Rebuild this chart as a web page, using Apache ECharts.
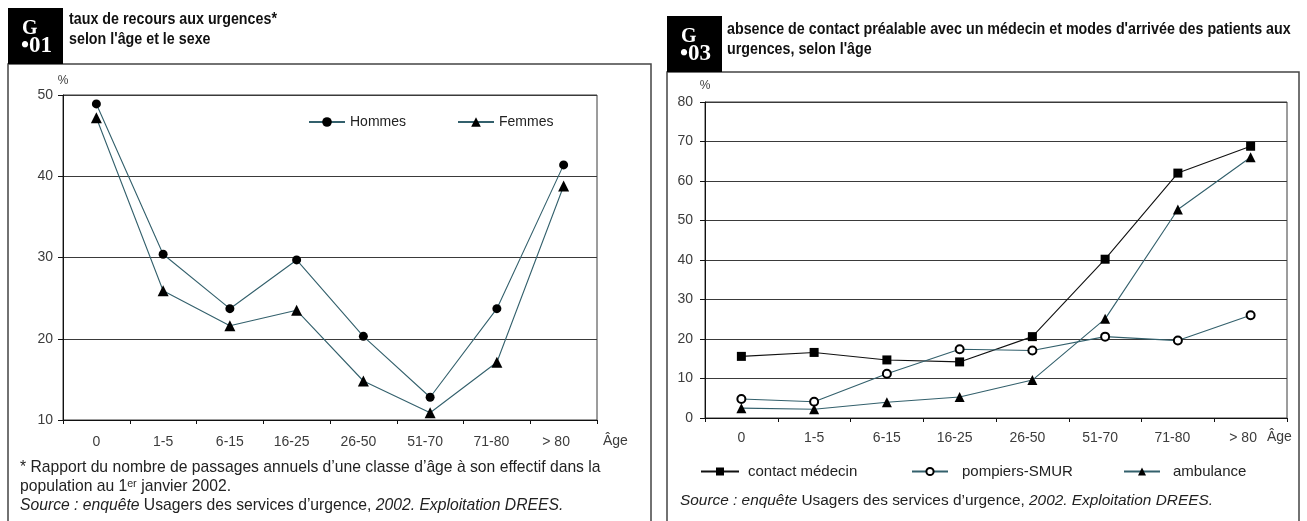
<!DOCTYPE html>
<html>
<head>
<meta charset="utf-8">
<script src="https://cdn.jsdelivr.net/npm/echarts@6/dist/echarts.min.js"></script>
<style>
html,body{margin:0;padding:0;background:#fff;}
#c{width:1307px;height:521px;}
</style>
</head>
<body>
<div id="c"></div>
<script>
// ---- data ----
const categories = ['0', '1-5', '6-15', '16-25', '26-50', '51-70', '71-80', '> 80'];
const hommes = [48.9, 30.4, 23.7, 29.7, 20.3, 12.8, 23.7, 41.4];
const femmes = [47.2, 25.9, 21.6, 23.5, 14.8, 10.9, 17.1, 38.8];
const contactMedecin = [15.6, 16.6, 14.7, 14.2, 20.6, 40.2, 62.0, 68.8];
const pompiersSMUR = [4.8, 4.1, 11.2, 17.4, 17.1, 20.6, 19.6, 26.0];
const ambulance = [2.5, 2.2, 4.0, 5.3, 9.6, 25.1, 52.8, 66.0];
const leftSeriesNames = ['Hommes', 'Femmes'];
const rightSeriesNames = ['contact médecin', 'pompiers-SMUR', 'ambulance'];
const titleLeft = ['taux de recours aux urgences*', "selon l'âge et le sexe"];
const titleRight = ["absence de contact préalable avec un médecin et modes d'arrivée des patients aux", "urgences, selon l'âge"];
const noteLeft1 = "* Rapport du nombre de passages annuels d’une classe d’âge à son effectif dans la";
const noteLeft2 = "population au 1ᵉʳ janvier 2002.";
const axisUnit = '%';
const axisXName = 'Âge';

const FONT = '"Liberation Sans", Arial, sans-serif';
const TITLEFONT = '"Liberation Sans", Arial, sans-serif';
const TEAL = '#33606c';
const GRID = '#3a3a3a';
const LBL = '#3c3c3c';

const chart = echarts.init(document.getElementById('c'), null, {renderer: 'canvas', width: 1307, height: 521});

// category labels drift slightly left in the original layout
const labelShift = [0, 0, 0, 10, 10, 10, 11, 15];
const categoryItems = categories.map((c, i) => labelShift[i] ? {value: c, textStyle: {padding: [0, labelShift[i], 0, 0]}} : c);

function xAxisCfg(gi, margin) {
  return {
    type: 'category', gridIndex: gi, data: categoryItems, boundaryGap: true,
    axisLine: {show: true, lineStyle: {color: '#111', width: 1}},
    axisTick: {show: true, length: 4, lineStyle: {color: '#111'}},
    axisLabel: {fontFamily: FONT, fontSize: 14, color: LBL, margin: margin},
    splitLine: {show: false}
  };
}
function yAxisCfg(gi, min, max, margin, gap) {
  return {
    type: 'value', gridIndex: gi, min: min, max: max, interval: 10,
    name: axisUnit, nameLocation: 'end', nameGap: gap,
    nameTextStyle: {fontFamily: FONT, fontSize: 12, color: LBL, align: 'center'},
    axisLine: {show: true, lineStyle: {color: '#111', width: 1}},
    axisTick: {show: true, length: 5, lineStyle: {color: '#111'}},
    axisLabel: {fontFamily: FONT, fontSize: 14, color: LBL, margin: margin},
    splitLine: {show: true, lineStyle: {color: GRID, width: 1}}
  };
}
function lineSeries(name, data, gi, symbol, size, lineColor, fill) {
  return {
    name: name, type: 'line', xAxisIndex: gi, yAxisIndex: gi, data: data,
    symbol: symbol, symbolSize: size, showAllSymbol: true,
    lineStyle: {color: lineColor, width: 1.1},
    itemStyle: {color: fill || '#000', borderColor: '#000', borderWidth: symbol === 'emptyCircle' ? 1.2 : 0},
    emphasis: {disabled: true}, animation: false, z: 5
  };
}
function legendCfg(name, left, top, w, h, fs, pad) {
  return {
    data: [name], left: left, top: top, padding: 0, itemWidth: w, itemHeight: h,
    selectedMode: false,
    textStyle: {fontFamily: FONT, fontSize: fs, color: '#222', padding: [0, 0, 0, pad]}
  };
}
function srcText(x, y, fs) {
  return {
    type: 'text', left: x, top: y,
    style: {
      text: '{i|Source : enquête} {n|Usagers des services d’urgence,} {i|2002. Exploitation DREES.}',
      rich: {
        i: {fontFamily: FONT, fontSize: fs, fontStyle: 'italic', fill: '#222'},
        n: {fontFamily: FONT, fontSize: fs, fill: '#222'}
      },
      font: fs + 'px ' + FONT, fill: '#222'
    }
  };
}
function box(x, y, num) {
  return [
    {type: 'rect', shape: {x: x, y: y, width: 55, height: 56}, style: {fill: '#000'}},
    {type: 'text', x: x + 14, y: y + 11, style: {text: 'G', font: 'bold 20px "Liberation Serif", serif', fill: '#fff'}},
    {type: 'text', x: x + 13, y: y + 27, style: {text: '•' + num, font: 'bold 23px "Liberation Serif", serif', fill: '#fff'}}
  ];
}
function title(x, y, t) {
  return {type: 'text', x: x, y: y, scaleX: 0.84, style: {text: t, font: 'bold 17px ' + TITLEFONT, fill: '#111'}};
}

const graphics = [].concat(
  [
    {type: 'rect', shape: {x: 8, y: 64, width: 643, height: 480}, style: {fill: 'none', stroke: '#444', lineWidth: 1.5}},
    {type: 'rect', shape: {x: 667, y: 72, width: 632, height: 480}, style: {fill: 'none', stroke: '#444', lineWidth: 1.5}}
  ],
  box(8, 8, '01'),
  box(667, 16, '03'),
  [
    title(69, 11, titleLeft[0]),
    title(69, 31, titleLeft[1]),
    title(727, 21, titleRight[0]),
    title(727, 41, titleRight[1]),
    {type: 'text', x: 603, y: 434, style: {text: axisXName, font: '14px ' + FONT, fill: LBL}},
    {type: 'text', x: 1267, y: 430, style: {text: axisXName, font: '14px ' + FONT, fill: LBL}},
    {type: 'text', x: 20, y: 460, style: {text: noteLeft1, font: '15.7px ' + FONT, fill: '#222'}},
    {type: 'text', x: 20, y: 479, style: {text: noteLeft2, font: '15.7px ' + FONT, fill: '#222'}}
  ],
  [srcText(20, 498, 15.7), srcText(680, 493, 15.4)]
);

const option = {
  backgroundColor: '#fff',
  animation: false,
  grid: [
    {left: 63, top: 95, width: 534, height: 325, show: true, borderColor: GRID, borderWidth: 1, containLabel: false},
    {left: 705, top: 102, width: 582, height: 316, show: true, borderColor: GRID, borderWidth: 1, containLabel: false}
  ],
  xAxis: [xAxisCfg(0, 15), xAxisCfg(1, 13)],
  yAxis: [yAxisCfg(0, 10, 50, 10, 8), yAxisCfg(1, 0, 80, 12, 10)],
  legend: [
    legendCfg(leftSeriesNames[0], 308, 115, 36, 12, 14, 0),
    legendCfg(leftSeriesNames[1], 457, 115, 36, 12, 14, 0),
    legendCfg(rightSeriesNames[0], 700, 464, 38, 10, 15, 4),
    legendCfg(rightSeriesNames[1], 911, 464, 36, 9, 15, 9),
    legendCfg(rightSeriesNames[2], 1123, 464, 36, 10, 15, 8)
  ],
  series: [
    lineSeries(leftSeriesNames[0], hommes, 0, 'circle', 9, TEAL),
    lineSeries(leftSeriesNames[1], femmes, 0, 'triangle', 11, TEAL),
    lineSeries(rightSeriesNames[0], contactMedecin, 1, 'rect', 9, '#111'),
    lineSeries(rightSeriesNames[1], pompiersSMUR, 1, 'emptyCircle', 8, TEAL, '#000'),
    lineSeries(rightSeriesNames[2], ambulance, 1, 'triangle', 10, TEAL)
  ],
  graphic: graphics
};
chart.setOption(option);
</script>
</body>
</html>
